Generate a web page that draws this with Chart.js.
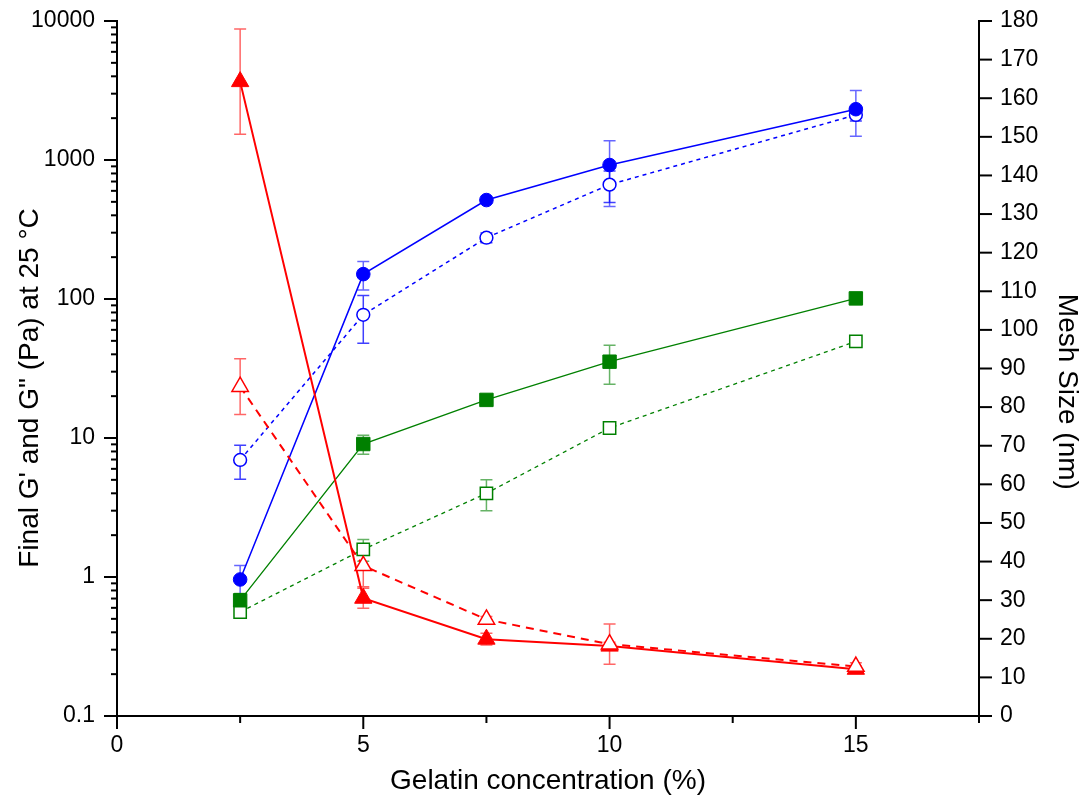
<!DOCTYPE html>
<html><head><meta charset="utf-8">
<script src="https://cdn.jsdelivr.net/npm/chart.js@4/dist/chart.umd.min.js"></script>
<style>html,body{margin:0;padding:0;background:#fff}#wrap{width:1089px;height:798px}</style>
</head><body><div id="wrap"><canvas id="c" width="1089" height="798"></canvas></div>
<script>
// ---- data ----
const concentration = [2.5, 5, 7.5, 10, 15];
// left axis (Pa), log scale
const blueFilled     = [0.96, 151, 515, 920, 2320];
const blueFilledErr  = [0.25, 35, 25, 457, 840];
const blueOpen       = [6.95, 77, 276, 665, 2110];
const blueOpenErr    = [1.9, 29, 22, 170, 200];
const greenFilled    = [0.68, 9.05, 18.8, 35.4, 101];
const greenFilledErr = [0.08, 1.4, 0.6, 11, 8];
const greenOpen      = [0.56, 1.58, 4.0, 11.8, 49.5];
const greenOpenErr   = [0.05, 0.28, 1.0, 0.8, 2];
// right axis (Mesh size, nm)
const redFilled      = [164.3, 30.5, 19.9, 18.1, 12.1];
const redFilledErr   = [13.6, 2.6, 1.5, 1.0, 0.8];
const redOpen        = [85.3, 38.9, 25.0, 18.6, 12.8];
const redOpenErr     = [7.2, 5.4, 0.8, 5.2, 1.0];
// ticks
const xTicks = [0, 2.5, 5, 7.5, 10, 12.5, 15, 17.5];
const xTickLabels = ['0', '', '5', '', '10', '', '15', ''];
const leftMajorTicks = [0.1, 1, 10, 100, 1000, 10000];
const leftMinorMultipliers = [2, 3, 4, 5, 6, 7, 8, 9];

const FONT = '"Liberation Sans", Arial, Helvetica, sans-serif';
Chart.defaults.font.family = FONT;
Chart.defaults.color = '#000';

const toPts = arr => concentration.map((x, i) => ({x, y: arr[i]}));

const errorBars = {
  id: 'errorBars',
  beforeDatasetsDraw(chart) {
    const ctx = chart.ctx;
    chart.data.datasets.forEach((ds, di) => {
      if (!ds.errors) return;
      const meta = chart.getDatasetMeta(di);
      const ys = chart.scales[ds.yAxisID];
      ctx.save();
      ctx.strokeStyle = ds.errorColor;
      ctx.lineWidth = 1.5;
      meta.data.forEach((pt, i) => {
        const v = ds.data[i].y, e = ds.errors[i];
        const top = ys.getPixelForValue(v + e);
        const bot = ys.getPixelForValue(Math.max(v - e, 1e-6));
        const x = pt.x, cw = 6;
        ctx.beginPath();
        ctx.moveTo(x, top); ctx.lineTo(x, bot);
        ctx.moveTo(x - cw, top); ctx.lineTo(x + cw, top);
        ctx.moveTo(x - cw, bot); ctx.lineTo(x + cw, bot);
        ctx.stroke();
      });
      ctx.restore();
    });
  }
};

const tickMarks = {
  id: 'tickMarks',
  afterDraw(chart) {
    const ctx = chart.ctx;
    const {x, y, y2} = chart.scales;
    ctx.save();
    ctx.strokeStyle = '#000';
    ctx.lineWidth = 2;
    const line = (a, b, c, d) => { ctx.beginPath(); ctx.moveTo(a, b); ctx.lineTo(c, d); ctx.stroke(); };
    const ax = x.top + 1;
    x.ticks.forEach(t => {
      const px = x.getPixelForValue(t.value);
      const len = (t.value % 5 === 0) ? 12 : 6;
      line(px, ax, px, ax + len);
    });
    const ay = y.right - 1;
    y.ticks.forEach(t => {
      const py = y.getPixelForValue(t.value);
      const len = leftMajorTicks.includes(t.value) ? 12 : 5;
      line(ay - len, py, ay, py);
    });
    const ar = y2.left + 1;
    y2.ticks.forEach(t => {
      const py = y2.getPixelForValue(t.value);
      line(ar, py, ar + 12, py);
    });
    ctx.restore();
  }
};

const BLUE = '#0000ff', GREEN = '#008000', RED = '#ff0000';

const datasets = [
  {label: 'Mesh size (open)', data: toPts(redOpen), yAxisID: 'y2', errors: redOpenErr,
   errorColor: 'rgba(255,0,0,0.6)', borderColor: RED, borderWidth: 2, borderDash: [8, 6],
   pointStyle: 'triangle', pointRadius: 9.5, pointBorderWidth: 1.5, pointBorderColor: RED, pointBackgroundColor: '#fff'},
  {label: 'Mesh size (filled)', data: toPts(redFilled), yAxisID: 'y2', errors: redFilledErr,
   errorColor: 'rgba(255,0,0,0.6)', borderColor: RED, borderWidth: 2,
   pointStyle: 'triangle', pointRadius: 10, pointBorderWidth: 1, pointBorderColor: RED, pointBackgroundColor: RED},
  {label: "G' (filled circle)", data: toPts(blueFilled), yAxisID: 'y', errors: blueFilledErr,
   errorColor: 'rgba(0,0,255,0.6)', borderColor: BLUE, borderWidth: 1.5,
   pointStyle: 'circle', pointRadius: 6.8, pointBorderWidth: 1, pointBorderColor: BLUE, pointBackgroundColor: BLUE},
  {label: 'G" (open circle)', data: toPts(blueOpen), yAxisID: 'y', errors: blueOpenErr,
   errorColor: 'rgba(0,0,255,0.75)', borderColor: BLUE, borderWidth: 1.5, borderDash: [4, 4],
   pointStyle: 'circle', pointRadius: 6.4, pointBorderWidth: 1.5, pointBorderColor: BLUE, pointBackgroundColor: '#fff'},
  {label: "G' (filled square)", data: toPts(greenFilled), yAxisID: 'y', errors: greenFilledErr,
   errorColor: 'rgba(0,128,0,0.6)', borderColor: GREEN, borderWidth: 1.3,
   pointStyle: 'rect', pointRadius: 9.5, pointBorderWidth: 1, pointBorderColor: GREEN, pointBackgroundColor: GREEN},
  {label: 'G" (open square)', data: toPts(greenOpen), yAxisID: 'y', errors: greenOpenErr,
   errorColor: 'rgba(0,128,0,0.6)', borderColor: GREEN, borderWidth: 1.3, borderDash: [4, 4],
   pointStyle: 'rect', pointRadius: 8.7, pointBorderWidth: 1.5, pointBorderColor: GREEN, pointBackgroundColor: '#fff'}
];
datasets.forEach(d => { d.fill = false; d.tension = 0; d.showLine = true; d.pointHoverRadius = d.pointRadius; });

new Chart(document.getElementById('c'), {
  type: 'scatter',
  data: {datasets},
  options: {
    responsive: false,
    animation: false,
    devicePixelRatio: 1,
    layout: {padding: {top: 21, left: 0, right: 0, bottom: 0}},
    plugins: {legend: {display: false}, tooltip: {enabled: false}},
    scales: {
      x: {
        type: 'linear', position: 'bottom', min: 0, max: 17.5,
        afterBuildTicks: s => { s.ticks = xTicks.map(v => ({value: v})); },
        afterFit: s => { s.height = 82; s.paddingLeft = 0; s.paddingRight = 0; },
        ticks: {autoSkip: false, maxRotation: 0, padding: 16, font: {size: 23},
                callback: v => xTickLabels[xTicks.indexOf(v)] ?? ''},
        grid: {display: true, drawOnChartArea: false, drawTicks: false},
        border: {display: true, width: 2, color: '#000'},
        title: {display: true, text: 'Gelatin concentration (%)', font: {size: 28}, padding: {top: 3, bottom: 0}}
      },
      y: {
        type: 'logarithmic', position: 'left', min: 0.1, max: 10000,
        afterBuildTicks: s => {
          const t = [];
          leftMajorTicks.forEach((m, i) => {
            t.push({value: m});
            if (i < leftMajorTicks.length - 1) leftMinorMultipliers.forEach(k => t.push({value: m * k}));
          });
          s.ticks = t;
        },
        afterFit: s => { s.width = 117; s.paddingTop = 0; s.paddingBottom = 0; },
        ticks: {autoSkip: false, padding: 22, font: {size: 23},
                callback: v => leftMajorTicks.includes(v) ? String(v) : ''},
        grid: {display: true, drawOnChartArea: false, drawTicks: false},
        border: {display: true, width: 2, color: '#000'},
        title: {display: true, text: 'Final G\' and G" (Pa) at 25 °C     ', font: {size: 28}, padding: {top: 13, bottom: 0}}
      },
      y2: {
        type: 'linear', position: 'right', min: 0, max: 180,
        afterFit: s => { s.width = 110; s.paddingTop = 0; s.paddingBottom = 0; },
        ticks: {stepSize: 10, autoSkip: false, padding: 21, font: {size: 23}},
        grid: {display: true, drawOnChartArea: false, drawTicks: false},
        border: {display: true, width: 2, color: '#000'},
        title: {display: true, text: '      Mesh Size (nm)', font: {size: 28}, padding: {top: 5, bottom: 0}}
      }
    }
  },
  plugins: [errorBars, tickMarks]
});
</script></body></html>
